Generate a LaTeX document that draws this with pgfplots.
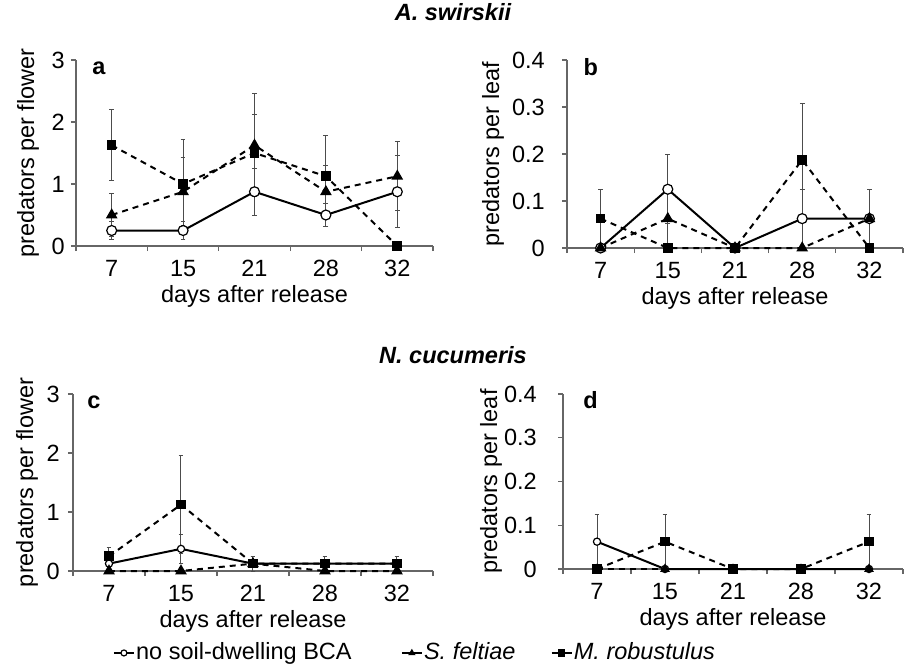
\documentclass[border=0pt]{standalone}
\usepackage{fontspec}
\setmainfont{Liberation Sans}
\usepackage{pgfplots}
\pgfplotsset{compat=1.18}

\newcommand\fs{\fontsize{11.75}{14}\selectfont}

\pgfplotsset{
  panel/.style={
    scale only axis, clip=false,
    axis lines*=left,
    axis line style={black!60, line width=0.6pt},
    xmin=0.5, xmax=5.5, ymin=0,
    xtick={0.5,1.5,...,5.5}, xticklabels={},
    extra x ticks={1,2,3,4,5},
    extra x tick labels={7,15,21,28,32},
    extra x tick style={major tick length=0pt, xticklabel style={yshift=-3pt}},
    tick align=outside, major tick length=2.5pt,
    tick style={black!60, line width=0.6pt},
    /pgf/number format/assume math mode=true,
    tick label style={font=\fs},
    label style={font=\fs},
    xlabel={days after release},
    xlabel style={at={(axis description cs:0.5,0)}, anchor=center, yshift=-25pt},
  },
  ctrl/.style={black, line width=1pt, mark=*,
    mark options={solid, fill=white, draw=black, line width=0.6pt}, mark size=2.5pt},
  sf/.style={black, line width=1pt, dash pattern=on 3pt off 2.5pt, mark=triangle*,
    mark options={solid, fill=black}, mark size=2.4pt},
  mr/.style={black, line width=1pt, dash pattern=on 3pt off 2.5pt, mark=square*,
    mark options={solid, fill=black}, mark size=1.9pt},
  eb/.style={error bars/.cd, y dir=both, y explicit,
    error bar style={black!70, line width=0.5pt, solid},
    error mark options={rotate=90, black!70, mark size=1.2pt, line width=0.5pt}},
}

\begin{document}
\fs
\begin{tikzpicture}
\useasboundingbox (0,0) rectangle (453pt,-335.5pt);

\node[font=\fs\bfseries\itshape] at (226.5pt,-6pt) {A. swirskii};
\node[font=\fs\bfseries\itshape] at (226.5pt,-177.5pt) {N. cucumeris};

% a
\begin{axis}[panel, at={(38pt,-123pt)}, anchor=south west,
  width=178.5pt, height=93pt, ymax=3, ytick={0,1,2,3},
  yticklabel style={xshift=1pt},
  ylabel={predators per flower},
  ylabel style={at={(axis description cs:0,0.5)}, anchor=center, yshift=24pt}]
\addplot[ctrl, eb] coordinates {(1,0.25)+-(0,0.14) (2,0.25)+-(0,0.14) (3,0.875)+-(0,0.375) (4,0.5)+-(0,0.19) (5,0.875)+-(0,0.58)};
\addplot[sf, eb] coordinates {(1,0.5)+-(0,0.35) (2,0.875)+-(0,0.55) (3,1.625)+-(0,0.83) (4,0.875)+-(0,0.43) (5,1.125)+-(0,0.56)};
\addplot[mr, eb] coordinates {(1,1.625)+-(0,0.57) (2,1.0)+-(0,0.71) (3,1.5)+-(0,0.62) (4,1.125)+-(0,0.66) (5,0)+-(0,0)};
\node[anchor=base west, inner sep=0pt, font=\fs\bfseries] at (rel axis cs:0.045,0.92) {a};
\end{axis}

% b
\begin{axis}[panel, at={(283.5pt,-124pt)}, anchor=south west,
  width=168pt, height=94pt, ymax=0.4, ytick={0,0.1,0.2,0.3,0.4},
  yticklabel shift=4.5pt,
  ylabel={predators per leaf},
  ylabel style={at={(axis description cs:0,0.5)}, anchor=center, yshift=37pt}]
\addplot[ctrl, eb] coordinates {(1,0)+-(0,0) (2,0.125)+-(0,0.073) (3,0)+-(0,0) (4,0.0625)+-(0,0.0625) (5,0.0625)+-(0,0.0625)};
\addplot[sf, eb] coordinates {(1,0)+-(0,0) (2,0.0625)+-(0,0.0625) (3,0)+-(0,0) (4,0)+-(0,0) (5,0.0625)+-(0,0.0625)};
\addplot[mr, eb] coordinates {(1,0.0625)+-(0,0.0625) (2,0)+-(0,0) (3,0)+-(0,0) (4,0.1875)+-(0,0.12) (5,0)+-(0,0)};
\node[anchor=base west, inner sep=0pt, font=\fs\bfseries] at (rel axis cs:0.048,0.92) {b};
\end{axis}

% c
\begin{axis}[panel, at={(36.5pt,-285.5pt)}, anchor=south west,
  width=180pt, height=88.5pt, ymax=3, ytick={0,1,2,3},
  ylabel={predators per flower},
  ylabel style={at={(axis description cs:0,0.5)}, anchor=center, yshift=23pt},
  legend style={at={(0.111,-0.463)}, anchor=west, draw=none, fill=none,
    legend columns=3, font=\fs, inner sep=0pt, column sep=0pt,
    nodes={inner sep=0.8pt}},
  legend image code/.code={\draw[mark repeat=2, mark phase=2, #1, mark size=1.5pt, line width=0.6pt, solid] plot coordinates {(0pt,0pt) (5pt,0pt) (10pt,0pt)};}]
\addplot[ctrl, mark size=1.8pt, eb] coordinates {(1,0.125)+-(0,0.125) (2,0.375)+-(0,0.24) (3,0.125)+-(0,0.125) (4,0.125)+-(0,0.125) (5,0.125)+-(0,0.125)};
\addlegendentry{no soil-dwelling BCA\rule{24pt}{0pt}}
\addplot[sf, eb] coordinates {(1,0)+-(0,0) (2,0)+-(0,0) (3,0.125)+-(0,0.125) (4,0)+-(0,0) (5,0)+-(0,0)};
\addlegendentry{\textit{S. feltiae}\rule{17pt}{0pt}}
\addplot[mr, eb] coordinates {(1,0.25)+-(0,0.15) (2,1.125)+-(0,0.83) (3,0.125)+-(0,0.125) (4,0.125)+-(0,0.125) (5,0.125)+-(0,0.125)};
\addlegendentry{\textit{M. robustulus}}
\node[anchor=base west, inner sep=0pt, font=\fs\bfseries] at (rel axis cs:0.039,0.92) {c};
\end{axis}

% d
\begin{axis}[panel, at={(281.5pt,-284.5pt)}, anchor=south west,
  width=170pt, height=87.5pt, ymax=0.4, ytick={0,0.1,0.2,0.3,0.4},
  yticklabel shift=6.5pt,
  ylabel={predators per leaf},
  ylabel style={at={(axis description cs:0,0.5)}, anchor=center, yshift=36pt}]
\addplot[ctrl, mark size=1.8pt, eb] coordinates {(1,0.0625)+-(0,0.0625) (2,0)+-(0,0) (3,0)+-(0,0) (4,0)+-(0,0) (5,0)+-(0,0)};
\addplot[sf, mark size=1.8pt, eb] coordinates {(1,0)+-(0,0) (2,0)+-(0,0) (3,0)+-(0,0) (4,0)+-(0,0) (5,0)+-(0,0)};
\addplot[mr, eb] coordinates {(1,0)+-(0,0) (2,0.0625)+-(0,0.0625) (3,0)+-(0,0) (4,0)+-(0,0) (5,0.0625)+-(0,0.0625)};
\node[anchor=base west, inner sep=0pt, font=\fs\bfseries] at (rel axis cs:0.059,0.92) {d};
\end{axis}
\end{tikzpicture}
\end{document}
